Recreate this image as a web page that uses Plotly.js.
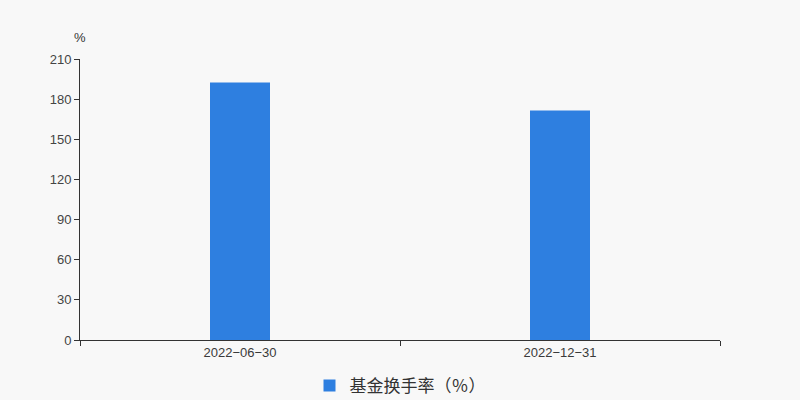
<!DOCTYPE html>
<html>
<head>
<meta charset="utf-8">
<script src="https://cdn.plot.ly/plotly-3.0.1.min.js"></script>
<style>html,body{margin:0;padding:0;background:#f8f8f8;}#chart{width:800px;height:400px;}</style>
</head>
<body>
<div id="chart"></div>
<script>
const categories = ["2022-06-30", "2022-12-31"];
const categoryLabels = ["2022−06−30", "2022−12−31"];
const turnover = [192.5, 171.6];
const seriesName = "基金换手率（％）";
const yTicks = [0, 30, 60, 90, 120, 150, 180, 210];

const cjk = "'Noto Sans CJK SC', sans-serif";
const latin = "'Liberation Sans', Arial, sans-serif";
const data = [{
  type: "bar",
  x: categories,
  y: turnover,
  name: seriesName,
  marker: {color: "#2e7fe0"},
  hoverinfo: "x+y"
}];
const layout = {
  width: 800, height: 400,
  paper_bgcolor: "#f8f8f8", plot_bgcolor: "#f8f8f8",
  margin: {l: 80, r: 80, t: 58.5, b: 60},
  bargap: 0.8125,
  showlegend: true,
  legend: {orientation: "h", x: 0.5, xanchor: "center", xref: "paper",
    yref: "container", y: 0.035, yanchor: "middle",
    font: {family: cjk, size: 17, color: "#333"}},
  font: {family: latin, color: "#333"},
  xaxis: {
    type: "category",
    tickvals: categories, ticktext: categoryLabels,
    showline: true, linecolor: "#333", linewidth: 1,
    ticks: "outside", ticklen: 5, tickcolor: "#333", tickson: "boundaries",
    showgrid: false, zeroline: false, automargin: false,
    tickfont: {family: latin, size: 13, color: "#3a3a3a"}
  },
  yaxis: {
    range: [0, 210],
    tickvals: yTicks,
    showline: true, linecolor: "#333", linewidth: 1,
    ticks: "outside", ticklen: 5, tickcolor: "#333",
    showgrid: false, zeroline: false, automargin: false,
    tickfont: {family: latin, size: 13, color: "#444"}
  },
  annotations: [{
    text: "%", xref: "paper", yref: "paper", x: 0, y: 1, xanchor: "center", yanchor: "bottom",
    yshift: 12, showarrow: false, font: {size: 13, color: "#333", family: latin}
  }]
};
Plotly.newPlot("chart", data, layout, {displayModeBar: false});
</script>
</body>
</html>
